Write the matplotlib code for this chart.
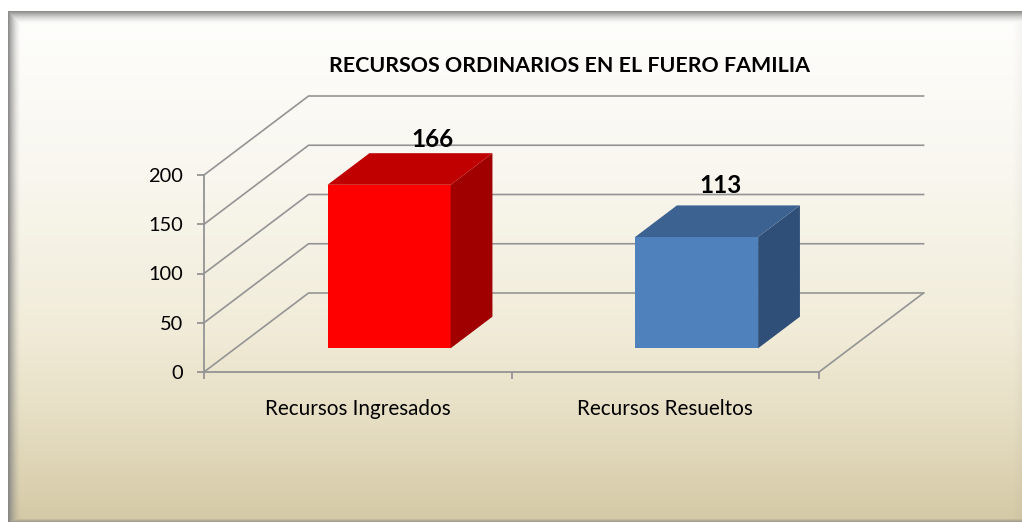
import numpy as np
import matplotlib
matplotlib.use('Agg')
import matplotlib.pyplot as plt
from matplotlib.patches import Polygon

categories = ['Recursos Ingresados', 'Recursos Resueltos']
values = [166, 113]
y_ticks = [0, 50, 100, 150, 200]
title = 'RECURSOS ORDINARIOS EN EL FUERO FAMILIA'

W, H = 1022, 522
# depth of the fake 3d box, in data units
DEPTH_X = 0.34
DEPTH_Y = 80.2
BAR_WIDTH = 0.4
GRID = '#949494'

plt.rcParams['font.family'] = ['Lato', 'DejaVu Sans']


def proj(x, y, d):
    return (x + d * DEPTH_X, y + d * DEPTH_Y)


def background():
    img = np.ones((H, W, 3))
    left, top, bottom = 7.5, 10.5, 522
    stops_y = [0, 0.3, 0.62, 0.8, 1]
    stops_c = np.array([[254, 254, 252], [249, 247, 240], [241, 236, 217],
                        [230, 222, 195], [212, 201, 165]]) / 255
    ys = (np.arange(H) - top) / (bottom - top)
    grad = np.stack([np.interp(ys, stops_y, stops_c[:, i]) for i in range(3)], axis=1)
    xx, yy = np.meshgrid(np.arange(W), np.arange(H))
    # soft dark inner edge, strong on the left and top, faint on the right and bottom
    dark_l = 0.95 * (1 - np.clip((xx - left) / 13, 0, 1)) ** 1.6
    dark_t = 0.95 * (1 - np.clip((yy - top) / 13, 0, 1)) ** 1.6
    dark_r = 0.07 * (1 - np.clip((W - xx) / 10, 0, 1))
    dark_b = 0.8 * (1 - np.clip((bottom - yy) / 4, 0, 1))
    dark = np.maximum.reduce([dark_l, dark_t, dark_r, dark_b])
    inside = (xx >= left) & (yy >= top)
    edge = np.array([0.5, 0.5, 0.5])
    panel = grad[:, None, :] * (1 - dark[..., None]) + edge * dark[..., None]
    img[inside] = panel[inside]
    return img


fig = plt.figure(figsize=(W / 100, H / 100), dpi=100)
bg = fig.add_axes([0, 0, 1, 1], zorder=0)
bg.imshow(background(), aspect='auto', interpolation='nearest')
bg.axis('off')

ax = fig.add_axes([204 / W, (H - 372) / H, 615 / W, 197 / H], zorder=1)
ax.patch.set_alpha(0)
ax.set_xlim(0, 2)
ax.set_ylim(0, 200)
for s in ['top', 'right']:
    ax.spines[s].set_visible(False)
for s in ['left', 'bottom']:
    ax.spines[s].set_color(GRID)
    ax.spines[s].set_linewidth(1.3)
ax.set_yticks(y_ticks)
ax.set_xticks([0, 1, 2])
ax.set_xticklabels([])
ax.tick_params(axis='both', color=GRID, width=1.3, length=5, labelsize=14.4)
ax.tick_params(axis='y', pad=10)

# walls and floor
for t in y_ticks:
    xs, ys = zip((0, t), proj(0, t, 1), proj(2, t, 1))
    ax.plot(xs, ys, color=GRID, lw=1.2, clip_on=False, zorder=1)
xs, ys = zip((2, 0), proj(2, 0, 1))
ax.plot(xs, ys, color=GRID, lw=1.2, clip_on=False, zorder=1)

bar_colors = [('#ff0000', '#c00000', '#a00000'), ('#4f81bd', '#3b6290', '#2f4f78')]
label_offsets = [(15.8, 21), (2.2, 26)]
for i, (v, cols) in enumerate(zip(values, bar_colors)):
    x0 = i + 0.5 - BAR_WIDTH / 2
    x1 = i + 0.5 + BAR_WIDTH / 2
    d0, d1 = 0.3, 0.7
    front = [proj(x0, 0, d0), proj(x1, 0, d0), proj(x1, v, d0), proj(x0, v, d0)]
    side = [proj(x1, 0, d0), proj(x1, 0, d1), proj(x1, v, d1), proj(x1, v, d0)]
    top = [proj(x0, v, d0), proj(x1, v, d0), proj(x1, v, d1), proj(x0, v, d1)]
    ax.add_patch(Polygon(front, fc=cols[0], ec='none', clip_on=False, zorder=3))
    ax.add_patch(Polygon(side, fc=cols[2], ec='none', clip_on=False, zorder=3))
    ax.add_patch(Polygon(top, fc=cols[1], ec='none', clip_on=False, zorder=3))
    lx, ly = proj(i + 0.5, v, 0.5)
    ax.annotate(str(v), (lx, ly), xytext=label_offsets[i], textcoords='offset points', ha='center',
                va='center', fontsize=17.5, fontweight='bold', color='black', zorder=4,
                annotation_clip=False)

for i, c in enumerate(categories):
    ax.annotate(c, (i + 0.5, 0), xytext=(0, -26.5), textcoords='offset points', ha='center',
                va='center', fontsize=14.9, color='black', annotation_clip=False)

fig.text(569 / W, 1 - 66 / H, title, ha='center', va='center', fontsize=15.4, fontweight='bold')

fig.savefig('out.png', dpi=100)
